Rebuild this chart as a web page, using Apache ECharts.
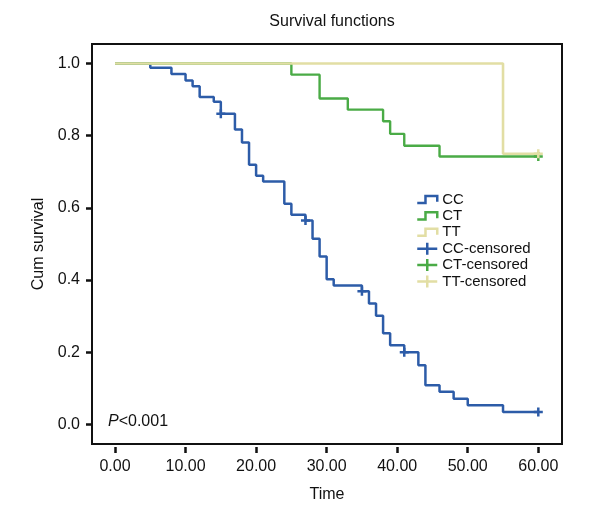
<!DOCTYPE html>
<html>
<head>
<meta charset="utf-8">
<script src="https://cdn.jsdelivr.net/npm/echarts@6/dist/echarts.min.js"></script>
<style>html,body{margin:0;padding:0;background:#fff;}#chart{width:600px;height:520px;}</style>
</head>
<body>
<div id="chart"></div>
<script>
// ---- data ----
var ccTimes = [0,5,8,10,11,12,14,15,17,18,19,20,21,24,25,27,28,29,30,31,35,36,37,38,39,41,43,44,46,48,50,55,60];
var ccSurv  = [1,0.988,0.971,0.953,0.937,0.907,0.894,0.861,0.817,0.781,0.719,0.689,0.673,0.611,0.581,0.565,0.514,0.465,0.402,0.385,0.369,0.335,0.301,0.252,0.219,0.200,0.164,0.108,0.090,0.071,0.053,0.034,0.034];
var ctTimes = [0,25,29,33,38,39,41,46,60];
var ctSurv  = [1,0.969,0.903,0.872,0.840,0.805,0.772,0.742,0.742];
var ttTimes = [0,55,60];
var ttSurv  = [1,0.75,0.75];
var ccCensTimes = [15,27,35,41,60];
var ccCensSurv  = [0.861,0.565,0.369,0.200,0.034];
var ctCensTimes = [60];
var ctCensSurv  = [0.742];
var ttCensTimes = [60];
var ttCensSurv  = [0.75];
var xTicks = [0,10,20,30,40,50,60];
var yTicks = [0,0.2,0.4,0.6,0.8,1.0];
var groupNames = ['CC','CT','TT'];
var censNames = ['CC-censored','CT-censored','TT-censored'];
var titleText = 'Survival functions';
var xName = 'Time';
var yName = 'Cum survival';

function pairs(xs, ys){ return xs.map(function(x,i){ return [x, ys[i]]; }); }

var colors = ['#2d5ca8', '#4aab46', '#e2dea4'];
var FONT = "'Liberation Sans Narrow', 'Liberation Sans', Arial, sans-serif";
var stepIcon = 'path://M0,7 L7,7 L7,1 L17,1 L17,6';
var plusIcon = 'path://M0,6 L20,6 M10,0 L10,12';
var plusSym = 'path://M0,5 L10,5 M5,0 L5,10';

var lineData = [pairs(ccTimes, ccSurv), pairs(ctTimes, ctSurv), pairs(ttTimes, ttSurv)];
var censData = [pairs(ccCensTimes, ccCensSurv), pairs(ctCensTimes, ctCensSurv), pairs(ttCensTimes, ttCensSurv)];
var lineWidths = [2.5, 2.4, 2.6];

var series = [];
groupNames.forEach(function(n, i){
  series.push({
    name: n, type: 'line', step: 'end', data: lineData[i],
    showSymbol: false, symbol: 'none', color: colors[i],
    lineStyle: {color: colors[i], width: lineWidths[i]},
    animation: false, z: 2 + i
  });
});
censNames.forEach(function(n, i){
  series.push({
    name: n, type: 'scatter', data: censData[i],
    symbol: plusSym, symbolSize: 9, color: colors[i],
    itemStyle: {color: 'rgba(0,0,0,0)', borderColor: colors[i], borderWidth: 2.5, opacity: 1},
    animation: false, z: 6
  });
});

var legendData = [];
groupNames.forEach(function(n, i){
  legendData.push({name: n, icon: stepIcon, itemStyle: {color: 'rgba(0,0,0,0)', borderColor: colors[i], borderWidth: 2.5, opacity: 1}});
});
censNames.forEach(function(n, i){
  legendData.push({name: n, icon: plusIcon, itemStyle: {color: 'rgba(0,0,0,0)', borderColor: colors[i], borderWidth: 2.5, opacity: 1}});
});

var chart = echarts.init(document.getElementById('chart'), null, {renderer: 'canvas'});
chart.setOption({
  animation: false,
  backgroundColor: '#fff',
  title: {
    text: titleText, left: 327, top: 9, textAlign: 'center',
    textStyle: {fontFamily: FONT, fontSize: 16, fontWeight: 'normal', color: '#111'}
  },
  grid: {left: 92, right: 38, top: 44, bottom: 76, show: true, borderColor: '#111', borderWidth: 2, backgroundColor: 'transparent'},
  legend: {
    orient: 'vertical', left: 416, top: 192, padding: 0, itemWidth: 20, itemHeight: 12, itemGap: 1.4,
    selectedMode: false, data: legendData,
    textStyle: {fontFamily: FONT, fontSize: 15, color: '#111', lineHeight: 15}
  },
  xAxis: {
    type: 'value', min: -3.26, max: 63.36, offset: 3,
    name: xName, nameLocation: 'middle', nameGap: 40,
    nameTextStyle: {fontFamily: FONT, fontSize: 16, color: '#111'},
    axisLine: {show: false, onZero: false},
    axisTick: {show: true, inside: false, length: 6, customValues: xTicks, lineStyle: {color: '#111', width: 2.5}},
    axisLabel: {customValues: xTicks, margin: 12, fontFamily: FONT, fontSize: 16, color: '#111',
      formatter: function(v){ return v.toFixed(2); }},
    splitLine: {show: false}
  },
  yAxis: {
    type: 'value', min: -0.0546, max: 1.054,
    name: yName, nameLocation: 'middle', nameGap: 44, nameRotate: 90,
    nameTextStyle: {fontFamily: FONT, fontSize: 16, color: '#111'},
    axisLine: {show: false, onZero: false},
    axisTick: {show: true, inside: false, length: 6, customValues: yTicks, lineStyle: {color: '#111', width: 2.5}},
    axisLabel: {customValues: yTicks, margin: 12, fontFamily: FONT, fontSize: 16, color: '#111',
      formatter: function(v){ return v.toFixed(1); }},
    splitLine: {show: false}
  },
  graphic: [{
    type: 'text', left: 108, top: 414,
    style: {
      text: '{i|P}<0.001',
      fontFamily: FONT, fontSize: 16, fill: '#111',
      rich: {i: {fontStyle: 'italic', fontFamily: FONT, fontSize: 16, fill: '#111'}}
    }
  }],
  series: series
});
</script>
</body>
</html>
